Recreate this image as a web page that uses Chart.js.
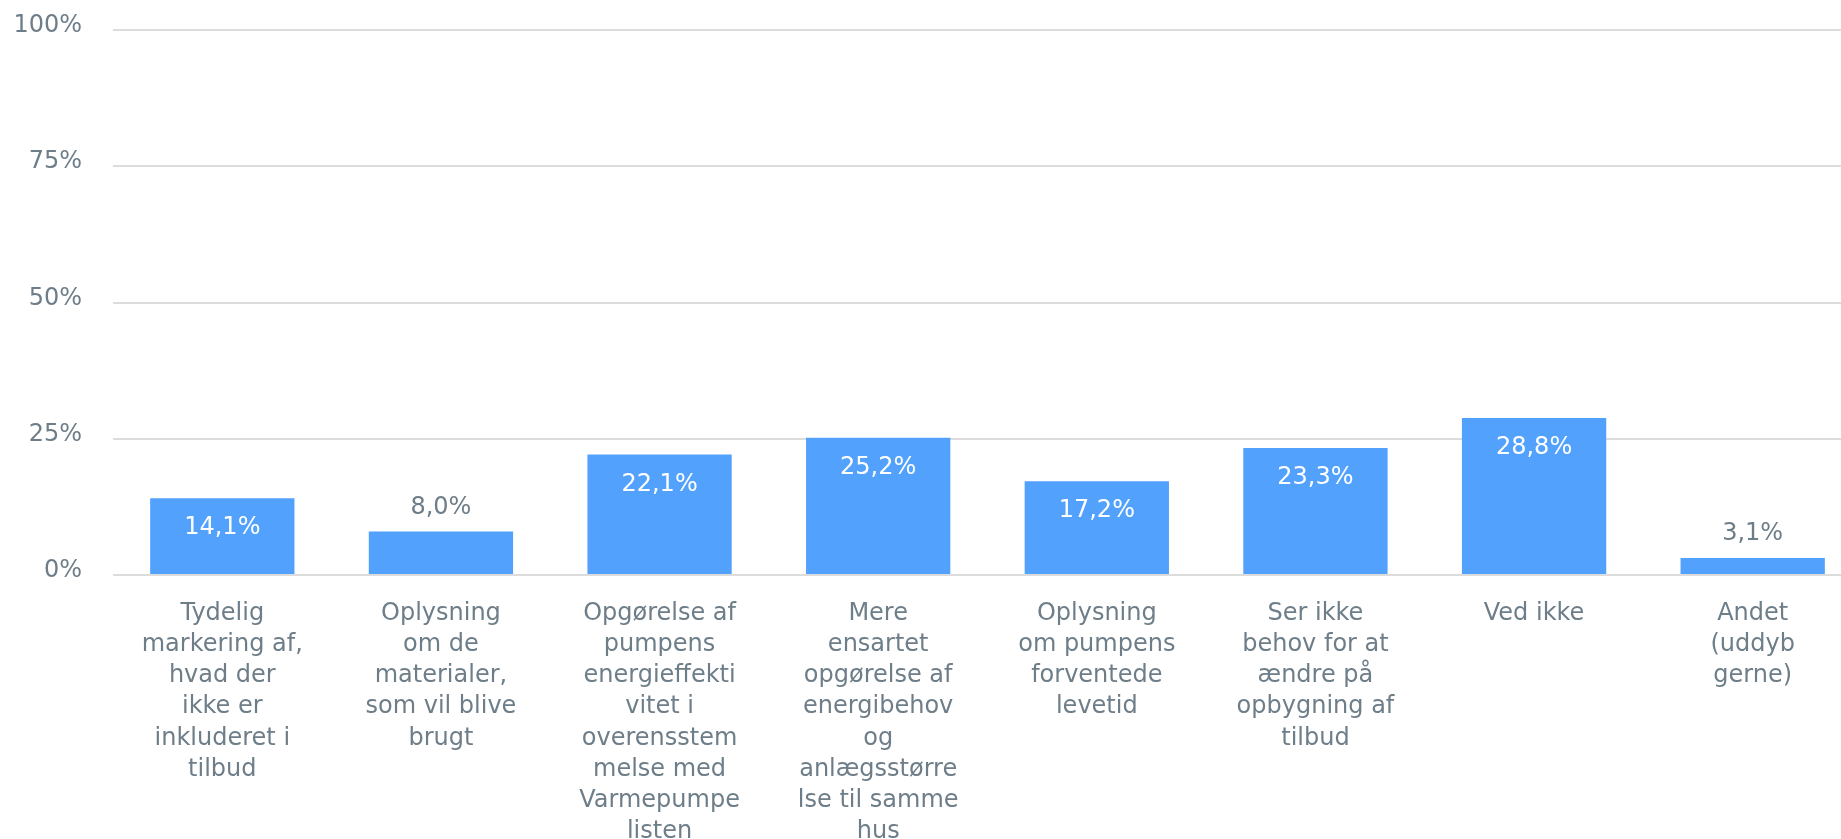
<!DOCTYPE html>
<html>
<head>
<meta charset="utf-8">
<script src="https://cdn.jsdelivr.net/npm/chart.js@4"></script>
<style>
  html, body { margin: 0; padding: 0; background: #ffffff; overflow: hidden; }
  #wrap { width: 1862px; height: 839px; position: relative; }
</style>
</head>
<body>
<div id="wrap"><canvas id="chart"></canvas></div>
<script>
// Survey answers (category labels already wrapped into lines)
const categories = [
  ["Tydelig", "markering af,", "hvad der", "ikke er", "inkluderet i", "tilbud"],
  ["Oplysning", "om de", "materialer,", "som vil blive", "brugt"],
  ["Opgørelse af", "pumpens", "energieffekti", "vitet i", "overensstem", "melse med", "Varmepumpe", "listen"],
  ["Mere", "ensartet", "opgørelse af", "energibehov", "og", "anlægsstørre", "lse til samme", "hus"],
  ["Oplysning", "om pumpens", "forventede", "levetid"],
  ["Ser ikke", "behov for at", "ændre på", "opbygning af", "tilbud"],
  ["Ved ikke"],
  ["Andet", "(uddyb", "gerne)"]
];
const shares = [14.1, 8.0, 22.1, 25.2, 17.2, 23.3, 28.8, 3.1];
const yTicks = [0, 25, 50, 75, 100];

const textGrey = '#6e7e89';
const barBlue = '#52a1fd';
const fontFamily = '"DejaVu Sans", sans-serif';

const fmt = v => v.toFixed(1).replace('.', ',') + '%';

// Value labels: inside the bar top when it fits, otherwise above it
const valueLabels = {
  id: 'valueLabels',
  afterDatasetsDraw(chart) {
    const ctx = chart.ctx;
    const meta = chart.getDatasetMeta(0);
    ctx.save();
    ctx.font = '24px ' + fontFamily;
    ctx.textAlign = 'center';
    ctx.textBaseline = 'middle';
    meta.data.forEach((bar, i) => {
      const v = chart.data.datasets[0].data[i];
      const h = bar.base - bar.y;
      if (h > 60) {
        ctx.fillStyle = '#ffffff';
        ctx.fillText(fmt(v), bar.x, bar.y + 30);
      } else {
        ctx.fillStyle = textGrey;
        ctx.fillText(fmt(v), bar.x, bar.y - 24);
      }
    });
    ctx.restore();
  }
};

new Chart(document.getElementById('chart'), {
  type: 'bar',
  data: {
    labels: categories,
    datasets: [{
      data: shares,
      backgroundColor: barBlue,
      borderWidth: 0,
      categoryPercentage: 1,
      barPercentage: 0.66
    }]
  },
  options: {
    responsive: true,
    maintainAspectRatio: false,
    animation: false,
    layout: { padding: { top: 30, left: 0, right: 0, bottom: 0 } },
    plugins: {
      legend: { display: false },
      tooltip: { enabled: false }
    },
    scales: {
      x: {
        grid: { display: false },
        border: { display: false },
        ticks: {
          color: textGrey,
          font: { family: fontFamily, size: 24, lineHeight: 1.3 },
          padding: 15,
          maxRotation: 0,
          autoSkip: false
        },
        afterFit(scale) { scale.height = 264; }
      },
      y: {
        min: 0,
        max: 100,
        afterBuildTicks(scale) { scale.ticks = yTicks.map(v => ({ value: v })); },
        grid: { color: '#dcdcdc', lineWidth: 2, drawTicks: false },
        border: { display: false },
        ticks: {
          color: textGrey,
          font: { family: fontFamily, size: 24 },
          padding: 31,
          labelOffset: -4,
          callback: v => v + '%'
        },
        afterFit(scale) {
          scale.width = 113;
          scale.paddingTop = 0;
          scale.paddingBottom = 0;
        }
      }
    }
  },
  plugins: [valueLabels]
});
</script>
</body>
</html>
